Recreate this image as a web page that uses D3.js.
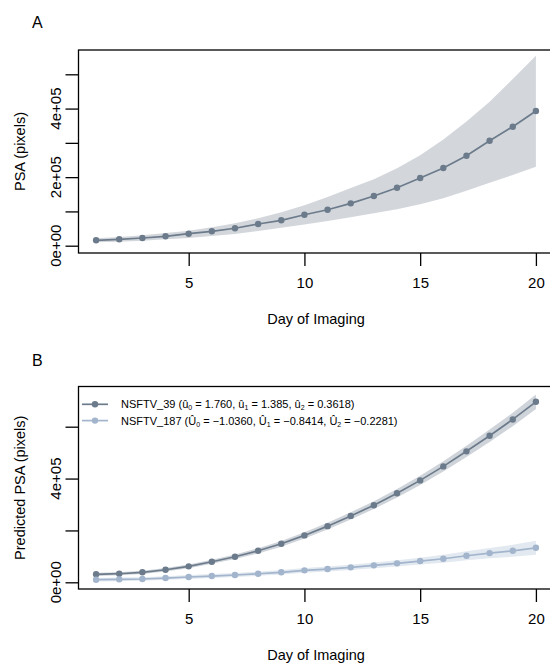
<!DOCTYPE html>
<html>
<head>
<meta charset="utf-8">
<script src="https://cdn.jsdelivr.net/npm/d3@7"></script>
<style>
  html, body { margin: 0; padding: 0; background: #fff; }
  svg { display: block; font-family: "Liberation Sans", Arial, Helvetica, sans-serif; }
</style>
</head>
<body>
<svg id="chart" width="550" height="664"></svg>
<script>
// ---------------- data ----------------
const days = [1,2,3,4,5,6,7,8,9,10,11,12,13,14,15,16,17,18,19,20];

// Panel A: observed PSA mean with band
const aMean  = [15700,18600,22500,27400,35000,42000,50800,63300,74100,90400,105000,123600,145000,169200,197500,226700,262600,306300,347200,393000];
const aUpper = [21600,25400,30300,37000,43800,53600,65300,79900,97400,118000,142000,168000,194000,226000,264000,310000,362000,420000,486000,554300];
const aLower = [9900,11700,14600,18700,22500,28300,34100,42900,52500,62000,72000,83000,94500,106200,120800,138300,160500,183800,206200,230500];

// Panel B: predicted PSA for two genotypes
const bNames = ["NSFTV_39", "NSFTV_187"];
const b39Mean  = [30800,33100,38500,48500,61500,79200,98500,121500,148500,180800,216500,256000,297300,343500,393000,447000,505000,565000,628000,696000];
const b39Lower = [24800,27100,32000,41500,54000,71200,89500,111500,137500,168800,203500,242000,282300,327000,375000,427000,483000,541000,602000,668000];
const b39Upper = [36800,39100,45000,55500,69000,87200,107500,131500,159500,192800,229500,270000,312300,360000,411000,467000,527000,589000,654000,724000];
const b187Mean  = [10000,11500,12700,16500,20400,24200,28100,33100,38500,46200,51200,57700,65400,73100,81900,90800,102300,112700,121500,133000];
const b187Lower = [3000,4500,5700,9500,12900,16700,20100,25100,30000,37200,41700,47700,54400,61100,68900,75800,85300,92700,98500,106000];
const b187Upper = [17000,18500,19700,23500,27900,31700,36100,41100,47000,55200,60700,67700,76400,85100,94900,105800,119300,132700,144500,160000];

// legend parameter estimates
const b39Params  = ["1.760", "1.385", "0.3618"];
const b187Params = ["\u22121.0360", "\u22120.8414", "\u22120.2281"];

// ticks
const xTicks = [5,10,15,20];
const aYTicks = [0,100000,200000,300000,400000,500000];
const aYLabels = {0:"0e+00", 200000:"2e+05", 400000:"4e+05"};
const bYTicks = [0,200000,400000,600000];
const bYLabels = {0:"0e+00", 400000:"4e+05"};

// ---------------- style ----------------
const darkCol = "#6C7B8B";
const darkBand = "#D3D7DC";
const lightCol = "#A2B5CD";
const lightBand = "#E3E9F0";
const darkBandB = "#CFD4DA";

const svg = d3.select("#chart");

function makeSeries(means, lows, ups) {
  return days.map((d, i) => ({d: d, m: means[i], lo: lows[i], hi: ups[i]}));
}

function drawPanel(cfg) {
  const g = svg.append("g");
  const x = d3.scaleLinear().domain([0.24, 20.76]).range([cfg.left, cfg.right]);
  const y = d3.scaleLinear().domain(cfg.yDomain).range([cfg.bottom, cfg.top]);

  // bands
  cfg.series.forEach(s => {
    const area = d3.area().x(p => x(p.d)).y0(p => y(p.lo)).y1(p => y(p.hi));
    g.append("path").datum(s.data).attr("d", area).attr("fill", s.band).attr("stroke", "none");
  });
  // lines + points
  cfg.series.forEach(s => {
    const line = d3.line().x(p => x(p.d)).y(p => y(p.m));
    g.append("path").datum(s.data).attr("d", line).attr("fill", "none")
      .attr("stroke", s.color).attr("stroke-width", 1.7);
    g.selectAll(null).data(s.data).enter().append("circle")
      .attr("cx", p => x(p.d)).attr("cy", p => y(p.m)).attr("r", 3.2)
      .attr("fill", s.color);
  });

  // box
  g.append("rect").attr("x", cfg.left).attr("y", cfg.top)
    .attr("width", cfg.right - cfg.left).attr("height", cfg.bottom - cfg.top)
    .attr("fill", "none").attr("stroke", "#000").attr("stroke-width", 1.3);

  // x axis
  const xa = g.append("g").attr("transform", `translate(0,${cfg.bottom})`)
    .call(d3.axisBottom(x).tickValues(xTicks).tickSize(13).tickPadding(11).tickFormat(d3.format("d")));
  xa.select(".domain").remove();
  xa.selectAll("line").attr("stroke", "#000").attr("stroke-width", 1.3);
  xa.selectAll("text").attr("font-size", 15).attr("fill", "#000")
    .attr("font-family", "Liberation Sans, Arial, sans-serif");

  // y axis
  const ya = g.append("g").attr("transform", `translate(${cfg.left},0)`)
    .call(d3.axisLeft(y).tickValues(cfg.yTicks).tickSize(13).tickFormat(""));
  ya.select(".domain").remove();
  ya.selectAll("line").attr("stroke", "#000").attr("stroke-width", 1.3);
  cfg.yTicks.forEach(t => {
    if (cfg.yLabels[t] === undefined) return;
    g.append("text").attr("transform", `translate(60.5,${y(t)}) rotate(-90)`)
      .attr("text-anchor", "middle").attr("font-size", 15).text(cfg.yLabels[t]);
  });

  // titles
  g.append("text").attr("x", (x(1) + x(20)) / 2).attr("y", cfg.xTitleY)
    .attr("text-anchor", "middle").attr("font-size", 14.5).text("Day of Imaging");
  g.append("text").attr("transform", `translate(25,${(cfg.top + cfg.bottom) / 2}) rotate(-90)`)
    .attr("text-anchor", "middle").attr("font-size", 14.5).text(cfg.yTitle);
  g.append("text").attr("x", 32).attr("y", cfg.tagY).attr("font-size", 16).text(cfg.tag);

  return {g, x, y};
}

// Panel A
drawPanel({
  tag: "A", tagY: 28,
  left: 78.5, right: 553.5, top: 50, bottom: 253,
  yDomain: [-21300, 570900],
  yTicks: aYTicks, yLabels: aYLabels,
  yTitle: "PSA (pixels)", xTitleY: 324,
  series: [{data: makeSeries(aMean, aLower, aUpper), color: darkCol, band: darkBand}]
});

// Panel B
drawPanel({
  tag: "B", tagY: 366,
  left: 78.5, right: 553.5, top: 386.5, bottom: 589,
  yDomain: [-25800, 755000],
  yTicks: bYTicks, yLabels: bYLabels,
  yTitle: "Predicted PSA (pixels)", xTitleY: 660,
  series: [
    {data: makeSeries(b39Mean, b39Lower, b39Upper), color: darkCol, band: darkBandB},
    {data: makeSeries(b187Mean, b187Lower, b187Upper), color: lightCol, band: lightBand}
  ]
});

// Legend
const legend = svg.append("g");
const rows = [
  {name: bNames[0], hat: "\u00FB", params: b39Params, color: darkCol, y: 404.3},
  {name: bNames[1], hat: "\u00DB", params: b187Params, color: lightCol, y: 420.6}
];
rows.forEach(r => {
  legend.append("line").attr("x1", 82).attr("x2", 108).attr("y1", r.y).attr("y2", r.y)
    .attr("stroke", r.color).attr("stroke-width", 1.7);
  legend.append("circle").attr("cx", 95).attr("cy", r.y).attr("r", 3.2).attr("fill", r.color);
  const t = legend.append("text").attr("x", 121).attr("y", r.y + 4).attr("font-size", 11);
  t.append("tspan").text(r.name + " (");
  r.params.forEach((p, i) => {
    t.append("tspan").text(r.hat);
    t.append("tspan").attr("font-size", 7).attr("dy", 2).text(String(i));
    t.append("tspan").attr("dy", -2).text(" = " + p + (i < 2 ? ", " : ")"));
  });
});
</script>
</body>
</html>
